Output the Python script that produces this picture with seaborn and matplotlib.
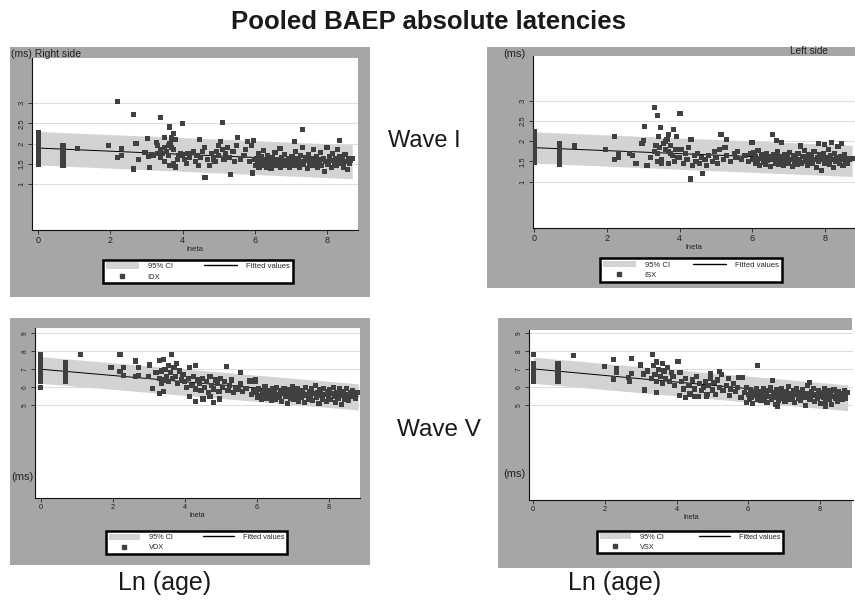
import numpy as np
import pandas as pd
import matplotlib
matplotlib.use("Agg")
import matplotlib.pyplot as plt
import seaborn as sns
from matplotlib.patches import Rectangle, Patch
from matplotlib.lines import Line2D

# ---------------- data ----------------
# Wave I, right side: (lneta, IDX)
idx_points = [
    (0, 1.48), (0, 1.58), (0, 1.66), (0, 1.74), (0, 1.82), (0, 1.90), (0, 1.98), (0, 2.06), (0, 2.14), (0, 2.22), (0, 2.28),
    (0.69, 1.47), (0.69, 1.62), (0.69, 1.70), (0.69, 1.78), (0.69, 1.86), (0.69, 1.94),
    (1.10, 1.87), (1.94, 1.95), (2.20, 3.05), (2.20, 1.66), (2.30, 1.70), (2.30, 1.87),
    (2.64, 2.72), (2.64, 1.37), (2.71, 2.01), (2.78, 1.60), (2.96, 1.78), (3.03, 2.12), (3.05, 1.68), (3.08, 1.41), (3.15, 1.72),
    (3.28, 2.03), (3.38, 2.64), (3.49, 2.15), (3.63, 2.41), (3.70, 2.14), (3.75, 2.26), (3.99, 2.49),
    (3.2, 1.70), (3.3, 1.95), (3.3, 1.75), (3.4, 1.85), (3.4, 1.65), (3.45, 1.75), (3.5, 1.90), (3.5, 1.55), (3.55, 1.80),
    (3.6, 1.95), (3.6, 1.70), (3.65, 2.00), (3.65, 1.45), (3.7, 1.90), (3.75, 1.85), (3.75, 1.50), (3.8, 2.10), (3.8, 1.42),
    (3.85, 1.60), (3.9, 1.70), (3.95, 1.75),
    (4.0, 1.72), (4.05, 1.60), (4.1, 1.50), (4.15, 1.75), (4.2, 1.65), (4.3, 1.80), (4.35, 1.55), (4.4, 1.70), (4.45, 1.45),
    (4.48, 2.11), (4.5, 1.65), (4.55, 1.80), (4.6, 1.90), (4.62, 1.17), (4.7, 1.60), (4.75, 1.45), (4.8, 1.75), (4.85, 1.62),
    (4.9, 1.55), (4.95, 1.80), (5.0, 1.70), (5.0, 1.95), (5.05, 2.05), (5.1, 1.85), (5.11, 2.53), (5.15, 1.60), (5.2, 1.75),
    (5.25, 1.90), (5.3, 1.65), (5.33, 1.24), (5.4, 1.80), (5.45, 1.55), (5.5, 1.95), (5.52, 2.15), (5.6, 1.60), (5.7, 1.70),
    (5.75, 1.85), (5.8, 2.05), (5.85, 1.55), (5.9, 1.95), (5.94, 1.27), (5.96, 2.08), (6.0, 1.60),
    (6.02, 1.45), (6.05, 1.62), (6.08, 1.55), (6.1, 1.75), (6.12, 1.40), (6.15, 1.50), (6.18, 1.68), (6.2, 1.58), (6.22, 1.45),
    (6.25, 1.82), (6.28, 1.52), (6.3, 1.60), (6.33, 1.42), (6.36, 1.70), (6.4, 1.50), (6.42, 1.58), (6.45, 1.38), (6.48, 1.65),
    (6.5, 1.48), (6.53, 1.55), (6.56, 1.78), (6.6, 1.45), (6.63, 1.60), (6.66, 1.52), (6.7, 1.88), (6.72, 1.42), (6.75, 1.66),
    (6.78, 1.50), (6.8, 1.58), (6.83, 1.72), (6.86, 1.46), (6.9, 1.55), (6.93, 1.62), (6.96, 1.40), (7.0, 1.50), (7.03, 1.68),
    (7.06, 1.58), (7.1, 1.45), (7.11, 2.05), (7.13, 1.80), (7.16, 1.52), (7.2, 1.62), (7.23, 1.42), (7.26, 1.70), (7.3, 1.55),
    (7.32, 2.34), (7.33, 1.90), (7.36, 1.48), (7.4, 1.65), (7.43, 1.58), (7.46, 1.38), (7.5, 1.72), (7.53, 1.50), (7.56, 1.62),
    (7.6, 1.45), (7.63, 1.85), (7.66, 1.55), (7.7, 1.68), (7.73, 1.42), (7.76, 1.60), (7.8, 1.50), (7.83, 1.78), (7.86, 1.45),
    (7.9, 1.62), (7.93, 1.30), (7.96, 1.55), (8.0, 1.90), (8.03, 1.48), (8.06, 1.68), (8.1, 1.58), (8.13, 1.40), (8.16, 1.75),
    (8.2, 1.52), (8.23, 1.62), (8.26, 1.45), (8.3, 1.85), (8.33, 1.55), (8.34, 2.08), (8.36, 1.68), (8.4, 1.50), (8.43, 1.60),
    (8.46, 1.42), (8.5, 1.72), (8.53, 1.55), (8.56, 1.36), (8.6, 1.62), (8.63, 1.50), (8.66, 1.58), (8.7, 1.63),
]
idx_fit_x = [0.0, 8.7]
idx_fit_y = [1.89, 1.55]
idx_ci_lo = [1.47, 1.13]
idx_ci_hi = [2.30, 1.97]

# Wave I, left side: (lneta, ISX)
isx_points = [
    (0, 1.47), (0, 1.52), (0, 1.60), (0, 1.68), (0, 1.76), (0, 1.84), (0, 1.92), (0, 2.00), (0, 2.08), (0, 2.16), (0, 2.24),
    (0.69, 1.43), (0.69, 1.50), (0.69, 1.60), (0.69, 1.70), (0.69, 1.80), (0.69, 1.88), (0.69, 1.94),
    (1.11, 1.88), (1.95, 1.79), (2.21, 2.11), (2.21, 1.55), (2.32, 1.69), (2.32, 1.60), (2.62, 1.69), (2.69, 1.65),
    (2.80, 1.45), (3.03, 2.37), (3.00, 2.02), (2.96, 1.94), (3.10, 1.40),
    (3.30, 2.83), (3.40, 2.64), (3.48, 2.34), (3.42, 2.11), (4.01, 2.69), (3.83, 2.29), (3.92, 2.11), (3.69, 2.17),
    (3.2, 1.60), (3.3, 1.75), (3.35, 1.90), (3.4, 1.70), (3.45, 1.85), (3.5, 1.55), (3.55, 1.95), (3.6, 1.80), (3.65, 2.05),
    (3.7, 1.75), (3.75, 1.90), (3.8, 1.65), (3.85, 1.50), (3.9, 1.80), (3.95, 1.60), (3.5, 1.45), (3.7, 1.45), (3.4, 1.50),
    (3.6, 2.00), (3.75, 1.70),
    (4.29, 1.07), (4.63, 1.21), (4.31, 2.04), (5.14, 2.17), (5.28, 2.04), (5.99, 1.96), (6.56, 2.17), (6.67, 2.01),
    (6.81, 1.96), (7.82, 1.94), (8.0, 1.92), (8.19, 1.96), (8.46, 1.94),
    (4.0, 1.60), (4.05, 1.80), (4.1, 1.45), (4.15, 1.70), (4.2, 1.55), (4.25, 1.85), (4.35, 1.40), (4.4, 1.65), (4.45, 1.50),
    (4.5, 1.70), (4.55, 1.45), (4.6, 1.60), (4.7, 1.55), (4.75, 1.40), (4.8, 1.65), (4.9, 1.50), (4.95, 1.75), (5.0, 1.60),
    (5.05, 1.45), (5.1, 1.80), (5.2, 1.55), (5.25, 1.85), (5.3, 1.65), (5.4, 1.50), (5.5, 1.70), (5.55, 1.60), (5.6, 1.75),
    (5.7, 1.55), (5.8, 1.65), (5.9, 1.50), (5.95, 1.70),
    (6.02, 1.55), (6.05, 1.72), (6.08, 1.45), (6.1, 1.62), (6.13, 1.50), (6.16, 1.78), (6.2, 1.40), (6.23, 1.58), (6.26, 1.66),
    (6.3, 1.48), (6.33, 1.60), (6.36, 1.42), (6.4, 1.70), (6.43, 1.52), (6.46, 1.62), (6.5, 1.38), (6.53, 1.55), (6.6, 1.68),
    (6.63, 1.46), (6.66, 1.58), (6.7, 1.75), (6.73, 1.44), (6.76, 1.62), (6.8, 1.50), (6.83, 1.56), (6.86, 1.40), (6.9, 1.66),
    (6.93, 1.52), (6.96, 1.60), (7.0, 1.45), (7.03, 1.72), (7.06, 1.55), (7.1, 1.38), (7.13, 1.64), (7.16, 1.50), (7.2, 1.58),
    (7.23, 1.42), (7.26, 1.70), (7.3, 1.54), (7.33, 1.88), (7.36, 1.46), (7.4, 1.62), (7.43, 1.78), (7.46, 1.50), (7.5, 1.58),
    (7.53, 1.40), (7.56, 1.68), (7.6, 1.52), (7.63, 1.62), (7.66, 1.45), (7.7, 1.74), (7.73, 1.55), (7.76, 1.36), (7.8, 1.60),
    (7.83, 1.50), (7.86, 1.66), (7.9, 1.28), (7.93, 1.56), (7.96, 1.70), (8.0, 1.45), (8.03, 1.60), (8.06, 1.52), (8.1, 1.80),
    (8.13, 1.42), (8.16, 1.64), (8.2, 1.55), (8.23, 1.35), (8.26, 1.70), (8.3, 1.50), (8.33, 1.60), (8.36, 1.86), (8.4, 1.46),
    (8.43, 1.62), (8.46, 1.54), (8.5, 1.40), (8.53, 1.68), (8.56, 1.50), (8.6, 1.58), (8.63, 1.45), (8.68, 1.55), (8.75, 1.57),
]
isx_fit_x = [0.0, 8.75]
isx_fit_y = [1.84, 1.52]
isx_ci_lo = [1.46, 1.13]
isx_ci_hi = [2.23, 1.90]

# Wave V, right side: (lneta, VDX)
vdx_points = [
    (0, 6.00), (0, 6.30), (0, 6.50), (0, 6.70), (0, 6.90), (0, 7.10), (0, 7.30), (0, 7.50), (0, 7.70), (0, 7.80),
    (0.69, 6.35), (0.69, 6.55), (0.69, 6.75), (0.69, 6.95), (0.69, 7.15), (0.69, 7.35),
    (1.11, 7.80), (1.95, 7.11), (2.20, 7.83), (2.29, 7.11), (2.29, 6.65), (2.20, 6.87),
    (2.64, 7.46), (2.71, 7.11), (2.71, 6.65), (2.64, 6.60), (3.03, 7.24), (3.10, 5.91), (2.99, 6.60),
    (3.29, 7.48), (3.40, 7.56), (3.64, 7.80), (3.29, 5.67), (3.40, 5.76),
    (3.2, 6.8), (3.3, 6.5), (3.35, 6.9), (3.4, 6.4), (3.45, 7.0), (3.5, 6.6), (3.55, 6.3), (3.6, 6.8), (3.65, 6.5),
    (3.7, 7.1), (3.75, 6.6), (3.8, 6.2), (3.85, 6.9), (3.9, 6.4), (3.95, 6.7), (3.35, 6.2), (3.55, 7.2),
    (3.77, 7.33), (4.14, 7.09), (4.31, 7.19), (4.13, 5.48), (4.30, 5.20), (4.51, 5.35), (4.70, 5.48), (4.79, 5.15),
    (4.96, 5.35), (5.16, 7.15), (5.55, 6.83), (5.79, 6.35), (5.97, 6.41),
    (4.0, 6.3), (4.05, 6.0), (4.1, 6.5), (4.2, 6.1), (4.25, 6.6), (4.3, 5.9), (4.35, 6.4), (4.4, 6.2), (4.45, 5.8),
    (4.5, 6.5), (4.55, 6.0), (4.6, 6.3), (4.65, 5.7), (4.7, 6.6), (4.75, 6.1), (4.8, 5.9), (4.85, 6.4), (4.9, 6.2),
    (4.95, 5.75), (5.0, 6.5), (5.05, 6.0), (5.1, 6.3), (5.2, 5.8), (5.25, 6.1), (5.3, 6.4), (5.35, 5.7), (5.4, 6.0),
    (5.5, 5.9), (5.55, 6.2), (5.6, 5.75), (5.7, 5.95), (5.8, 6.3), (5.85, 5.6), (5.9, 5.8), (5.95, 6.35),
    (6.0, 5.7), (6.03, 5.45), (6.06, 5.9), (6.1, 5.55), (6.13, 5.3), (6.16, 5.75), (6.2, 5.6), (6.23, 6.05), (6.26, 5.4),
    (6.3, 5.8), (6.33, 5.5), (6.36, 5.65), (6.4, 5.25), (6.43, 5.9), (6.46, 5.55), (6.5, 5.7), (6.53, 5.35), (6.56, 6.0),
    (6.6, 5.6), (6.63, 5.45), (6.66, 5.8), (6.7, 5.2), (6.73, 5.65), (6.76, 5.95), (6.8, 5.5), (6.83, 5.7), (6.86, 5.1),
    (6.9, 5.85), (6.93, 5.4), (6.96, 5.6), (7.0, 6.05), (7.03, 5.3), (7.06, 5.75), (7.1, 5.5), (7.13, 5.9), (7.16, 5.2),
    (7.2, 5.65), (7.23, 5.45), (7.26, 5.8), (7.3, 5.55), (7.33, 5.15), (7.36, 6.0), (7.4, 5.6), (7.43, 5.35), (7.46, 5.75),
    (7.5, 5.5), (7.53, 5.9), (7.56, 5.25), (7.6, 5.65), (7.63, 6.1), (7.66, 5.45), (7.7, 5.7), (7.73, 5.1), (7.76, 5.85),
    (7.8, 5.55), (7.83, 5.35), (7.86, 5.95), (7.9, 5.6), (7.93, 5.2), (7.96, 5.75), (8.0, 5.45), (8.03, 5.85), (8.06, 5.3),
    (8.1, 5.65), (8.13, 6.0), (8.16, 5.5), (8.2, 5.15), (8.23, 5.7), (8.26, 5.4), (8.3, 5.9), (8.33, 5.55), (8.36, 5.05),
    (8.4, 5.75), (8.43, 5.35), (8.46, 5.6), (8.5, 5.95), (8.53, 5.45), (8.56, 5.25), (8.6, 5.7), (8.63, 5.5), (8.66, 5.8),
    (8.7, 5.6), (8.74, 5.4), (8.8, 5.7),
]
vdx_fit_x = [0.0, 8.82]
vdx_fit_y = [7.00, 5.47]
vdx_ci_lo = [6.22, 4.74]
vdx_ci_hi = [7.70, 6.19]

# Wave V, left side: (lneta, VSX)
vsx_points = [
    (0, 6.35), (0, 6.55), (0, 6.75), (0, 6.95), (0, 7.15), (0, 7.33), (0, 7.80),
    (0.69, 6.35), (0.69, 6.55), (0.69, 6.75), (0.69, 6.95), (0.69, 7.15), (0.69, 7.33),
    (1.13, 7.76), (1.98, 7.15), (2.23, 7.56), (2.23, 6.46), (2.32, 7.06), (2.32, 6.81),
    (2.74, 7.61), (2.74, 6.78), (2.68, 6.31), (2.65, 6.54), (3.00, 7.24), (3.07, 6.74), (3.11, 5.85), (3.33, 7.80),
    (3.44, 5.72), (4.04, 7.41),
    (3.2, 6.9), (3.3, 6.5), (3.35, 7.2), (3.4, 6.7), (3.45, 6.3), (3.5, 7.0), (3.55, 6.6), (3.6, 6.2), (3.65, 6.9),
    (3.7, 6.5), (3.75, 7.1), (3.8, 6.3), (3.85, 6.8), (3.9, 6.6), (3.95, 6.1), (3.45, 7.4), (3.6, 7.3),
    (4.1, 6.8), (4.15, 6.3), (4.2, 5.9), (4.25, 6.5), (4.25, 5.45), (4.35, 6.1), (4.4, 5.6), (4.45, 6.4), (4.5, 5.9),
    (4.55, 6.6), (4.6, 5.5), (4.65, 6.2), (4.7, 5.8), (4.75, 6.0), (4.8, 6.3), (4.85, 5.6), (4.9, 6.1), (4.95, 6.5),
    (5.0, 5.85), (5.05, 6.25), (5.1, 5.6), (5.15, 6.4), (5.2, 6.0), (5.25, 6.7), (5.3, 5.8), (5.4, 6.1), (5.45, 6.5),
    (5.5, 5.9), (5.6, 6.2), (5.65, 5.75), (5.7, 6.0), (5.8, 5.45), (5.85, 6.55), (5.9, 5.7), (5.95, 6.0),
    (4.09, 5.54), (4.37, 5.67), (4.51, 5.48), (4.83, 5.48), (4.94, 6.78), (5.19, 6.87), (5.48, 5.54), (5.74, 6.56),
    (5.95, 5.17), (6.27, 7.22), (6.69, 6.37), (6.83, 4.96), (7.71, 6.26), (8.76, 5.72), (8.16, 4.96),
    (6.0, 5.6), (6.03, 5.3), (6.06, 5.85), (6.1, 5.45), (6.13, 5.1), (6.16, 5.7), (6.2, 5.55), (6.23, 5.95), (6.26, 5.35),
    (6.3, 5.75), (6.33, 5.5), (6.36, 5.25), (6.4, 5.65), (6.43, 5.9), (6.46, 5.4), (6.5, 5.6), (6.53, 5.15), (6.56, 5.8),
    (6.6, 5.5), (6.63, 6.0), (6.66, 5.3), (6.7, 5.7), (6.73, 5.45), (6.76, 5.05), (6.8, 5.85), (6.83, 5.55), (6.86, 5.25),
    (6.9, 5.65), (6.93, 5.9), (6.96, 5.4), (7.0, 5.6), (7.03, 5.2), (7.06, 5.75), (7.1, 5.5), (7.13, 6.05), (7.16, 5.35),
    (7.2, 5.65), (7.23, 5.45), (7.26, 5.8), (7.3, 5.15), (7.33, 5.6), (7.36, 5.9), (7.4, 5.4), (7.43, 5.7), (7.46, 5.25),
    (7.5, 5.55), (7.53, 5.85), (7.56, 5.45), (7.6, 5.0), (7.63, 5.65), (7.66, 6.1), (7.7, 5.5), (7.73, 5.3), (7.76, 5.75),
    (7.8, 5.55), (7.83, 5.95), (7.86, 5.2), (7.9, 5.6), (7.93, 5.4), (7.96, 5.8), (8.0, 5.5), (8.03, 5.1), (8.06, 5.7),
    (8.1, 5.45), (8.13, 5.9), (8.16, 5.25), (8.2, 5.6), (8.23, 5.8), (8.26, 5.35), (8.3, 5.65), (8.33, 5.05), (8.36, 5.5),
    (8.4, 5.85), (8.43, 5.4), (8.46, 5.6), (8.5, 5.2), (8.53, 5.75), (8.56, 5.45), (8.6, 5.65), (8.63, 5.3), (8.66, 5.55),
    (8.7, 5.8), (8.72, 5.4),
]
vsx_fit_x = [0.0, 8.78]
vsx_fit_y = [7.02, 5.42]
vsx_ci_lo = [6.22, 4.70]
vsx_ci_hi = [7.67, 6.13]

wave1_ticks = [1, 1.5, 2, 2.5, 3]
wave1_ticklabels = ["1", "1.5", "2", "2.5", "3"]
wave5_ticks = [5, 6, 7, 8, 9]
wave5_ticklabels = ["5", "6", "7", "8", "9"]
x_ticks = [0, 2, 4, 6, 8]

# ---------------- styling ----------------
sns.set_theme(style="white")
plt.rcParams["font.family"] = ["Liberation Sans", "DejaVu Sans"]

W, H = 855, 603
GRAY = "#a6a6a6"
CI_COLOR = "#d3d3d3"
PT_COLOR = "#404040"

fig = plt.figure(figsize=(W / 100, H / 100), dpi=100)
fig.patch.set_facecolor("white")


def frect(x0, y0, x1, y1):
    return [x0 / W, 1 - y1 / H, (x1 - x0) / W, (y1 - y0) / H]


def draw_panel(points, col, fit_x, fit_y, ci_lo, ci_hi, yticks, yticklabels, lay):
    fr = frect(*lay["frame"])
    fig.add_artist(Rectangle((fr[0], fr[1]), fr[2], fr[3], transform=fig.transFigure,
                             facecolor=GRAY, edgecolor="none", zorder=-10))
    ax = fig.add_axes(frect(*lay["axes"]))
    ax.set_facecolor("white")
    df = pd.DataFrame(points, columns=["lneta", col])
    ax.fill_between(fit_x, ci_lo, ci_hi, color=CI_COLOR, lw=0, zorder=1)
    sns.lineplot(x=fit_x, y=fit_y, color="black", lw=0.7, ax=ax, zorder=2)
    sns.scatterplot(data=df, x="lneta", y=col, marker="s", s=lay["ms"], color=PT_COLOR,
                    edgecolor="none", linewidth=0, ax=ax, zorder=3, legend=False)
    ax.set_xlim(*lay["xlim"])
    ax.set_ylim(*lay["ylim"])
    ax.set_xticks(x_ticks)
    ax.set_xticklabels([str(t) for t in x_ticks])
    ax.set_yticks(yticks)
    ax.set_yticklabels(yticklabels, rotation=90, va="center")
    ax.tick_params(axis="x", direction="out", length=3, width=0.6, labelsize=lay["xts"], pad=1.5,
                   colors="#222222", bottom=True)
    ax.tick_params(axis="y", direction="out", length=3, width=0.6, labelsize=lay["yts"], pad=1.5,
                   colors="#222222", left=True)
    for s in ["top", "right"]:
        ax.spines[s].set_visible(False)
    for s in ["left", "bottom"]:
        ax.spines[s].set_color("#111111")
        ax.spines[s].set_linewidth(0.8)
    ax.grid(False)
    ax.yaxis.grid(True, color="#dedede", lw=0.8)
    ax.set_axisbelow(True)
    ax.set_xlabel("lneta", fontsize=lay["xls"], labelpad=0.5, color="#222222")
    ax.set_ylabel("")

    handles = [Patch(facecolor=CI_COLOR, edgecolor="none"),
               Line2D([], [], marker="s", ls="none", color=PT_COLOR, markersize=3),
               Line2D([], [], color="black", lw=1.0)]
    labels = ["95% CI", col, "Fitted values"]
    lr = frect(*lay["legend"])
    leg = ax.legend(handles, labels, ncol=2, loc="center", bbox_to_anchor=lr,
                    bbox_transform=fig.transFigure, mode="expand", frameon=True, fancybox=False,
                    fontsize=lay["lgs"], handlelength=4.3, handleheight=0.9, handletextpad=1.2,
                    borderpad=0.35, labelspacing=0.35, columnspacing=1.0, borderaxespad=0)
    fr_leg = leg.get_frame()
    fr_leg.set_edgecolor("black")
    fr_leg.set_linewidth(1.8)
    fr_leg.set_facecolor("white")
    fr_leg.set_alpha(1)
    return ax


lay_tl = dict(frame=(10, 47, 370, 297), axes=(32, 58, 358, 230), xlim=(-0.17, 8.86), ylim=(-0.14, 4.12),
              legend=(103, 258, 293, 285), ms=14, xts=6.5, yts=5.5, xls=5.6, lgs=5.5)
lay_tr = dict(frame=(487, 47, 855, 288), axes=(533, 56, 855, 228), xlim=(-0.04, 8.83), ylim=(-0.14, 4.10),
              legend=(600, 255, 782, 285), ms=14, xts=6.5, yts=5.5, xls=5.6, lgs=5.5)
lay_bl = dict(frame=(10, 318, 370, 565), axes=(35, 328, 360, 498), xlim=(-0.16, 8.87), ylim=(-0.15, 9.29),
              legend=(106, 528, 287, 557), ms=14, xts=5.3, yts=4.8, xls=5.2, lgs=5.3)
lay_br = dict(frame=(498, 318, 852, 568), axes=(529, 330, 853, 500), xlim=(-0.12, 8.93), ylim=(-0.26, 9.18),
              legend=(597, 528, 783, 556), ms=14, xts=5.3, yts=4.8, xls=5.2, lgs=5.3)

draw_panel(idx_points, "IDX", idx_fit_x, idx_fit_y, idx_ci_lo, idx_ci_hi, wave1_ticks, wave1_ticklabels, lay_tl)
draw_panel(isx_points, "ISX", isx_fit_x, isx_fit_y, isx_ci_lo, isx_ci_hi, wave1_ticks, wave1_ticklabels, lay_tr)
draw_panel(vdx_points, "VDX", vdx_fit_x, vdx_fit_y, vdx_ci_lo, vdx_ci_hi, wave5_ticks, wave5_ticklabels, lay_bl)
draw_panel(vsx_points, "VSX", vsx_fit_x, vsx_fit_y, vsx_ci_lo, vsx_ci_hi, wave5_ticks, wave5_ticklabels, lay_br)

# ---------------- texts ----------------
def ftext(px, py, s, **kw):
    fig.text(px / W, 1 - py / H, s, **kw)

ftext(428, 22, "Pooled BAEP absolute latencies", fontsize=18.5, fontweight="bold", ha="center", va="center", color="#1a1a1a")
ftext(424, 141, "Wave I", fontsize=17, ha="center", va="center", color="#1a1a1a")
ftext(439, 430, "Wave V", fontsize=17.5, ha="center", va="center", color="#1a1a1a")
ftext(165, 583, "Ln (age)", fontsize=18, ha="center", va="center", color="#1a1a1a")
ftext(615, 583, "Ln (age)", fontsize=18, ha="center", va="center", color="#1a1a1a")

ftext(11, 54, "(ms) Right side", fontsize=7.5, ha="left", va="center", color="#222222")
ftext(514, 54, "(ms)", fontsize=8, ha="center", va="center", color="#222222")
ftext(809, 51, "Left side", fontsize=7.2, ha="center", va="center", color="#222222")
ftext(22, 477, "(ms)", fontsize=8, ha="center", va="center", color="#222222")
ftext(514, 474, "(ms)", fontsize=8, ha="center", va="center", color="#222222")

fig.savefig("out.png", dpi=100, facecolor="white")
